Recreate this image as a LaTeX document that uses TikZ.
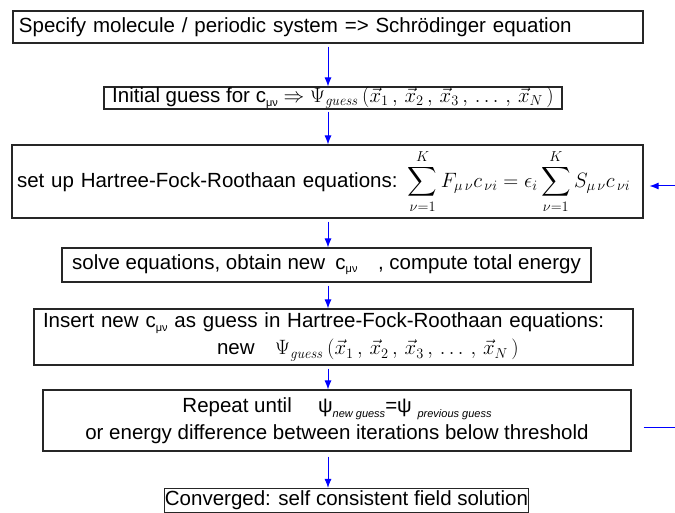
\documentclass[tikz,border=0pt]{standalone}
\usepackage{amsmath}
\usepackage{exscale}
\usepackage[no-math]{fontspec}
\setmainfont{Liberation Sans}
\usetikzlibrary{arrows.meta}
\definecolor{arrblue}{RGB}{0,0,255}
\DeclareFontShape{OMX}{cmex}{m}{n}{<-7.5> cmex7 <7.5-8.5> cmex8 <8.5-9.5> cmex9 <9.5-> cmex10}{}
\newcommand\cmunu{c\raisebox{-0.3ex}{\fontsize{11}{11}\selectfont μν}}
\newcommand\subit[1]{\raisebox{-0.45ex}{\fontsize{11}{11}\selectfont\itshape #1}}
\newcommand\xvecs{\,(\vec{x}_1\,,\,\vec{x}_2\,,\,\vec{x}_3\,,\,\ldots\,,\,\vec{x}_N\,)}
\begin{document}
\begin{tikzpicture}[x=1pt,y=-1pt,
  box/.style={draw=black!85, line width=1.1pt, inner xsep=0pt, inner ysep=0pt,
              font=\fontsize{20.5}{27}\selectfont},
  arr/.style={draw=arrblue, line width=1pt,
              -{Latex[length=9pt,width=7pt,color=arrblue]}}]
\clip (0,0) rectangle (675,513);
\coordinate (ax) at (328,0);
\node[box, minimum width=630pt, minimum height=32pt, text width=618pt, align=left]
  (b1) at (328,27) {Specify molecule / periodic system => Schrödinger equation};
\node[box, minimum width=458pt, minimum height=22pt, align=center]
  (b2) at (333,98) {Initial guess for \cmunu{}\ $\Rightarrow\Psi_{\mathit{guess}}\xvecs$};
\node[box, minimum width=631pt, minimum height=73pt, text width=621pt, align=left]
  (b3) at (327.5,181.5) {set up Hartree-Fock-Roothaan equations:\enspace
  $\displaystyle\sum_{\nu=1}^{K} F_{\mu\,\nu}c_{\,\nu i}=\epsilon_i\sum_{\nu=1}^{K} S_{\mu\,\nu}c_{\,\nu i}$};
\node[box, minimum width=529pt, minimum height=34pt, align=center]
  (b4) at (326.5,265) {solve equations, obtain new\enspace\cmunu\quad, compute total energy};
\node[box, minimum width=599pt, minimum height=56pt, text width=581pt, align=left]
  (b5) at (333.5,337) {Insert new \cmunu{} as guess in Hartree-Fock-Roothaan equations:\\
  \hspace*{174pt}new\quad$\Psi_{\mathit{guess}}\xvecs$};
\node[box, minimum width=588pt, minimum height=61pt, align=center]
  (b6) at (337,420.5) {Repeat until\quad\ ψ\subit{new guess}=ψ \subit{previous guess}\\
  or energy difference between iterations below threshold};
\node[box, minimum width=341pt, minimum height=24pt, align=center]
  (b7) at (346.5,500.5) {Converged: self consistent field solution};
\draw[arr, shorten <=3pt] (b1.south -| ax) -- (b2.north -| ax);
\draw[arr, shorten <=2pt] (b2.south -| ax) -- (b3.north -| ax);
\draw[arr, shorten <=3pt] (b3.south -| ax) -- (b4.north -| ax);
\draw[arr, shorten <=3pt] (b4.south -| ax) -- (b5.north -| ax);
\draw[arr, shorten <=3pt] (b5.south -| ax) -- (b6.north -| ax);
\draw[arr, shorten <=5pt] (b6.south -| ax) -- (b7.north -| ax);
\draw[arr] ([xshift=12pt,yshift=-7pt]b6.east) -- ++(50,0) |- ([xshift=6pt,yshift=-4.5pt]b3.east);
\end{tikzpicture}
\end{document}
